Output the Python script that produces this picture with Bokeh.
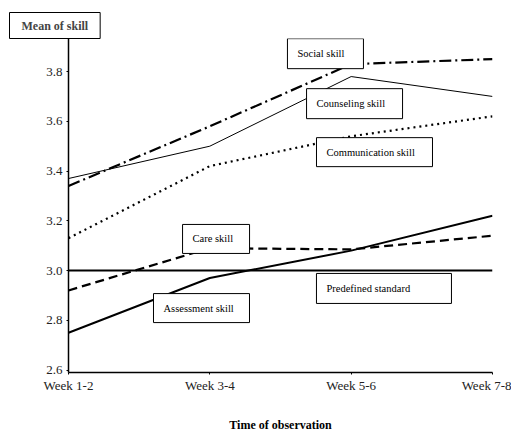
from bokeh.plotting import figure
from bokeh.models import FixedTicker, ColumnDataSource, Title, PrintfTickFormatter
from bokeh.core.properties import value
from bokeh.embed import file_html
from bokeh.resources import INLINE

# ---- data ----
weeks = ["Week 1-2", "Week 3-4", "Week 5-6", "Week 7-8"]
social = [3.34, 3.58, 3.83, 3.85]
counseling = [3.37, 3.50, 3.78, 3.70]
communication = [3.13, 3.42, 3.54, 3.62]
care = [2.92, 3.09, 3.085, 3.14]
assessment = [2.75, 2.97, 3.08, 3.22]
standard = [3.0, 3.0, 3.0, 3.0]
y_ticks = [2.6, 2.8, 3.0, 3.2, 3.4, 3.6, 3.8]

# label boxes (centre in data coordinates, size in screen pixels)
box_text = ["Social skill", "Counseling skill", "Communication skill",
            "Care skill", "Assessment skill", "Predefined standard"]
box_x = [1.818, 2.024, 2.165, 1.044, 0.941, 2.232]
box_y = [3.872, 3.671, 3.476, 3.127, 2.849, 2.928]
box_w = [76, 96, 116, 67, 96, 135]
box_h = [30, 30, 29, 29, 29, 30]

FONT = "Liberation Serif"
xs = list(range(len(weeks)))

p = figure(width=511, height=436, output_backend="svg", toolbar_location=None,
           x_range=(0, 3), y_range=(2.59, 3.933),
           min_border_left=68, min_border_right=19, min_border_top=38,
           min_border_bottom=64)
p.outline_line_color = None
p.xgrid.visible = False
p.ygrid.visible = False
p.background_fill_color = "white"

p.line(xs, standard, line_color="black", line_width=2)
p.line(xs, social, line_color="black", line_width=2.2, line_dash="12 4 2 4")
p.line(xs, counseling, line_color="black", line_width=1)
p.line(xs, communication, line_color="black", line_width=2.2, line_dash="2 4")
p.line(xs, care, line_color="black", line_width=2.2, line_dash="9 5")
p.line(xs, assessment, line_color="black", line_width=2)

src = ColumnDataSource(dict(x=box_x, y=box_y, w=box_w, h=box_h, t=box_text,
                            off=[-wi / 2 + 10 for wi in box_w]))
p.rect(x="x", y="y", width="w", height="h", width_units="screen",
       height_units="screen", source=src, fill_color="white",
       line_color="black", line_width=1)
p.text(x="x", y="y", text="t", x_offset="off", source=src,
       text_font=value(FONT), text_font_size="10.5px", text_align="left",
       text_baseline="middle", text_color="black")

p.title = Title(text="Mean of skill", text_font=FONT, text_font_size="12px",
                text_font_style="bold", align="left", offset=-59, standoff=0,
                border_line_color="black", border_line_width=1,
                background_fill_color="white", padding=dict(x=12, y=6))

p.xaxis.ticker = FixedTicker(ticks=xs)
p.xaxis.major_label_overrides = {i: w for i, w in enumerate(weeks)}
p.yaxis.ticker = FixedTicker(ticks=y_ticks)
p.yaxis.formatter = PrintfTickFormatter(format="%.1f")

for ax in (p.xaxis, p.yaxis):
    ax.axis_line_color = "black"
    ax.axis_line_width = 1.5
    ax.major_tick_line_color = "black"
    ax.major_tick_out = 2
    ax.major_tick_in = 0
    ax.minor_tick_line_color = None
    ax.major_label_text_font = FONT
    ax.major_label_text_font_size = "13px"
    ax.major_label_text_color = "#222222"

p.yaxis.major_label_standoff = 4
p.xaxis.major_label_standoff = 3
p.xaxis.axis_label = "Time of observation"
p.xaxis.axis_label_text_font = FONT
p.xaxis.axis_label_text_font_size = "12px"
p.xaxis.axis_label_text_font_style = "bold"
p.xaxis.axis_label_standoff = 22
p.xaxis.axis_label_text_color = "black"

open("out.html", "w").write(file_html(p, INLINE))
